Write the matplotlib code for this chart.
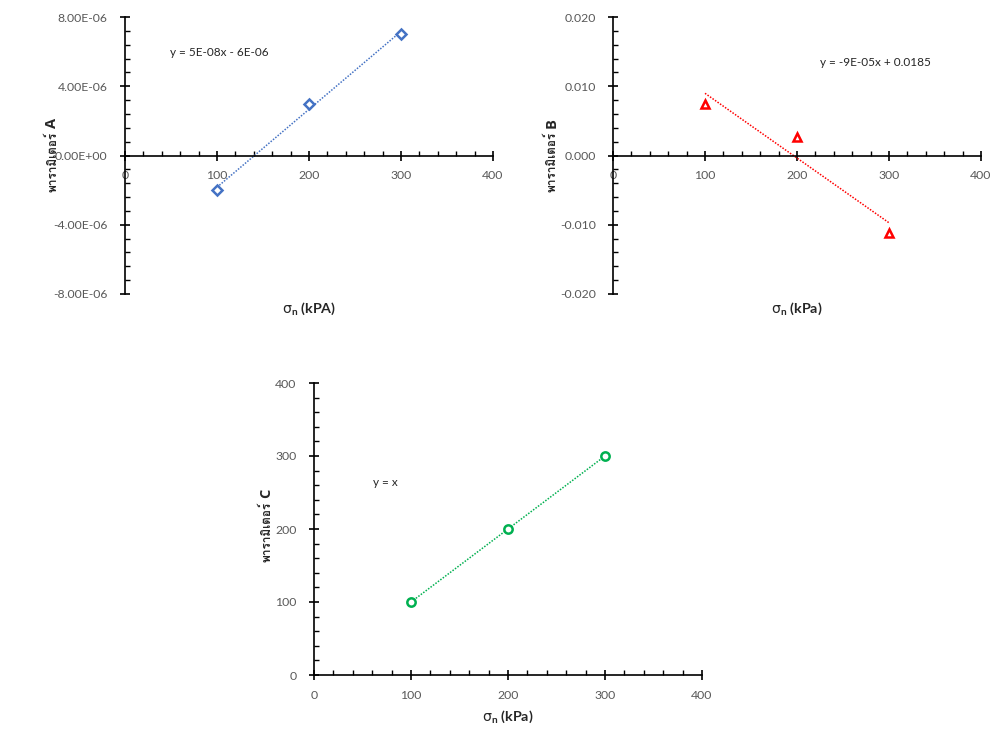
import numpy as np
import matplotlib
matplotlib.use("Agg")
import matplotlib.pyplot as plt
from matplotlib import font_manager
from matplotlib.ticker import MultipleLocator, FuncFormatter

# ---------------- data ----------------
sigma_n = [100, 200, 300]
param_A = [-2.0e-06, 3.0e-06, 7.0e-06]
param_B = [0.0075, 0.0026, -0.0112]
param_C = [100, 200, 300]

eq_A = "y = 5E-08x - 6E-06"
eq_B = "y = -9E-05x + 0.0185"
eq_C = "y = x"

ylabel_thai = "พารามิเตอร์"
ylabel_letters = ["A", "B", "C"]
xlabel_A = r"$\sigma_\mathbf{n}$ (kPA)"
xlabel_BC = r"$\sigma_\mathbf{n}$ (kPa)"

# ---------------- fonts ----------------
def find_thai_font():
    for f in font_manager.fontManager.ttflist:
        try:
            ft = matplotlib.ft2font.FT2Font(f.fname)
            cm = ft.get_charmap()
            if 0x0E1E in cm and 0x0E32 in cm:
                return f.name
        except Exception:
            pass
    return None

thai = find_thai_font()
base = "Lato"
fam = [base] + ([thai] if thai else []) + ["DejaVu Sans"]
thai_fam = ([thai] if thai else []) + ["DejaVu Sans"]
plt.rcParams['font.family'] = fam
plt.rcParams['mathtext.fontset'] = 'custom'
plt.rcParams['mathtext.rm'] = "DejaVu Sans"
plt.rcParams['mathtext.it'] = "DejaVu Sans"
plt.rcParams['mathtext.bf'] = base + ':bold'

tick_color = "#595959"
text_color = "#262626"

fig = plt.figure(figsize=(9.95, 7.29), dpi=100)
W, H = 995, 729

def fx(px):
    return px / W

def fy(py):
    return 1 - py / H

def axes_px(left, right, top, bottom):
    return fig.add_axes([left / W, 1 - bottom / H, (right - left) / W, (bottom - top) / H])

def style(ax, ylim, ymajor, yminor, fmt):
    ax.set_xlim(0, 400)
    ax.set_ylim(*ylim)
    for s in ['top', 'right']:
        ax.spines[s].set_visible(False)
    ax.spines['left'].set_position(('data', 0))
    ax.spines['bottom'].set_position(('data', 0))
    for s in ['left', 'bottom']:
        ax.spines[s].set_color('black')
        ax.spines[s].set_linewidth(1.2)
    ax.xaxis.set_major_locator(MultipleLocator(100))
    ax.xaxis.set_minor_locator(MultipleLocator(20))
    ax.yaxis.set_major_locator(MultipleLocator(ymajor))
    ax.yaxis.set_minor_locator(MultipleLocator(yminor))
    ax.yaxis.set_major_formatter(FuncFormatter(fmt))
    ax.xaxis.set_major_formatter(FuncFormatter(lambda v, p: f"{v:.0f}"))
    ax.tick_params(which='major', direction='inout', length=7, width=1.2, color='black',
                   labelsize=8.8, labelcolor=tick_color)
    ax.tick_params(which='minor', direction='in', length=3.5, width=1.0, color='black')
    ax.tick_params(axis='x', which='major', pad=7)
    ax.tick_params(axis='y', which='major', pad=9)
    ax.patch.set_alpha(0)

def plot_series(ax, x, y, marker, color, ms):
    coef = np.polyfit(x, y, 1)
    xx = np.array([min(x), max(x)])
    ax.plot(xx, np.polyval(coef, xx), linestyle=(0, (1, 1)), color=color, lw=1.1, zorder=2)
    ax.plot(x, y, linestyle='none', marker=marker, markersize=ms, markerfacecolor='white',
            markeredgecolor=color, markeredgewidth=1.8, zorder=3)

def ylabel(px, py, letter):
    # py = pixel row where the Thai part ends and the letter starts
    fig.text(fx(px), fy(py + 2), ylabel_thai, fontsize=8.5, fontweight='bold', color=text_color,
             ha='center', va='top', rotation=90, family=thai_fam)
    fig.text(fx(px + 0.5), fy(py - 2), letter, fontsize=10.5, fontweight='bold', color=text_color,
             ha='center', va='bottom', rotation=90, family=["Open Sans", "DejaVu Sans"])

# ---- Chart A ----
axA = axes_px(125, 493, 17, 294)
style(axA, (-8e-06, 8e-06), 4e-06, 8e-07, lambda v, p: f"{v:.2E}")
plot_series(axA, sigma_n, param_A, 'D', '#4472C4', 5)
fig.text(fx(170), fy(53), eq_A, fontsize=8.5, color=text_color, va='center', ha='left')
fig.text(fx(309), fy(309), xlabel_A, fontsize=10.3, fontweight='bold', color=text_color,
         ha='center', va='center')
ylabel(52, 130, ylabel_letters[0])

# ---- Chart B ----
axB = axes_px(613, 981, 17, 294)
style(axB, (-0.02, 0.02), 0.01, 0.002, lambda v, p: f"{v:.3f}")
plot_series(axB, sigma_n, param_B, '^', '#FF0000', 6)
fig.text(fx(820), fy(63), eq_B, fontsize=8.5, color=text_color, va='center', ha='left')
fig.text(fx(797), fy(309), xlabel_BC, fontsize=10.3, fontweight='bold', color=text_color,
         ha='center', va='center')
ylabel(551, 130, ylabel_letters[1])

# ---- Chart C ----
axC = axes_px(314, 702, 383, 675)
style(axC, (0, 400), 100, 20, lambda v, p: f"{v:.0f}")
plot_series(axC, sigma_n, param_C, 'o', '#00B050', 6)
fig.text(fx(373), fy(483), eq_C, fontsize=8.5, color=text_color, va='center', ha='left')
fig.text(fx(508), fy(717), xlabel_BC, fontsize=10.3, fontweight='bold', color=text_color,
         ha='center', va='center')
ylabel(266, 500, ylabel_letters[2])

fig.savefig("out.png", dpi=100)
